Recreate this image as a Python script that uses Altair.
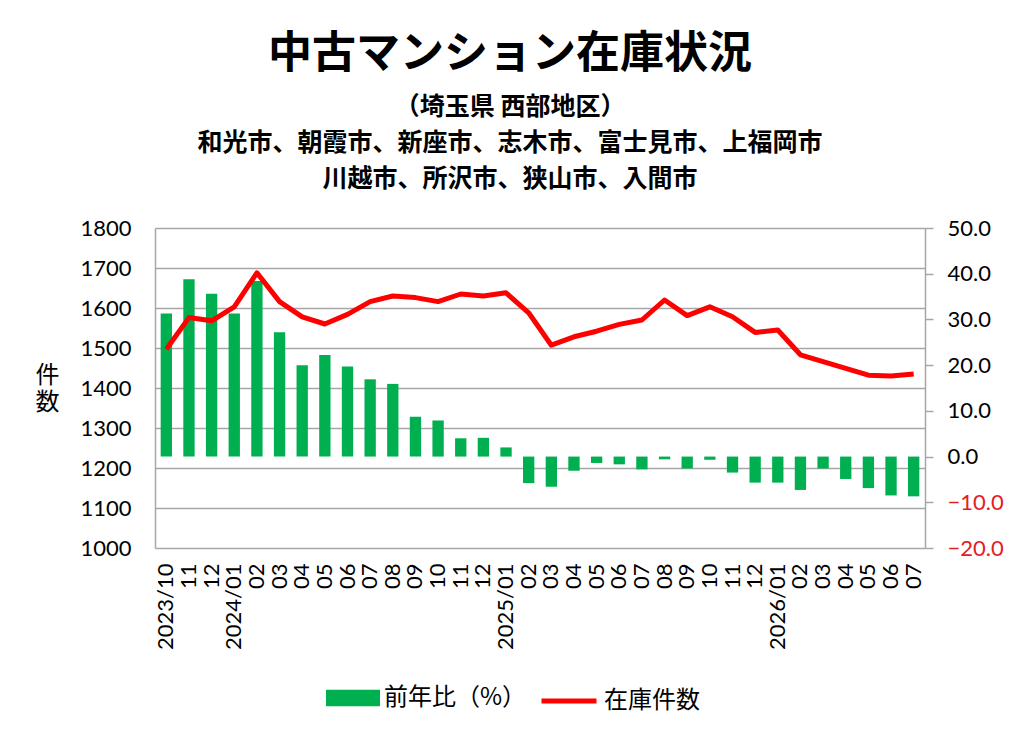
import altair as alt
import pandas as pd

months = [
    "2023/10", "2023/11", "2023/12",
    "2024/01", "2024/02", "2024/03", "2024/04", "2024/05", "2024/06",
    "2024/07", "2024/08", "2024/09", "2024/10", "2024/11", "2024/12",
    "2025/01", "2025/02", "2025/03", "2025/04", "2025/05", "2025/06",
    "2025/07", "2025/08", "2025/09", "2025/10", "2025/11", "2025/12",
    "2026/01", "2026/02", "2026/03", "2026/04", "2026/05", "2026/06", "2026/07",
]
tick_labels = [
    "2023/10", "11", "12",
    "2024/01", "02", "03", "04", "05", "06", "07", "08", "09", "10", "11", "12",
    "2025/01", "02", "03", "04", "05", "06", "07", "08", "09", "10", "11", "12",
    "2026/01", "02", "03", "04", "05", "06", "07",
]
yoy_pct = [31.3, 38.8, 35.6, 31.3, 38.4, 27.2, 20.0, 22.2, 19.7, 16.9, 15.9, 8.7,
           7.9, 4.0, 4.1, 2.0, -5.8, -6.6, -3.1, -1.4, -1.7, -2.8, -0.6, -2.6,
           -0.7, -3.5, -5.7, -5.7, -7.3, -2.6, -4.9, -6.9, -8.5, -8.7]
stock = [1497, 1576, 1568, 1603, 1688, 1616, 1578, 1560, 1584, 1616, 1630, 1626,
         1616, 1635, 1630, 1638, 1588, 1507, 1528, 1542, 1559, 1570, 1620, 1581,
         1603, 1578, 1539, 1545, 1483, 1466, 1449, 1432, 1430, 1435]

bar_name = "前年比（%）"
line_name = "在庫件数"

df = pd.DataFrame({"month": months, "yoy": yoy_pct, "stock": stock,
                   "bar_series": [bar_name] * len(months),
                   "line_series": [line_name] * len(months)})

JP = "Noto Sans CJK JP"
NUM = "Lato"
GRID = "#a6a6a6"

label_map = "{" + ",".join(f"'{m}':'{l}'" for m, l in zip(months, tick_labels)) + "}"

x_enc = alt.X(
    "month:O", sort=months, title=None,
    scale=alt.Scale(paddingInner=0.5, paddingOuter=0.25),
    axis=alt.Axis(labelExpr=f"{label_map}[datum.value]", labelAngle=270,
                  labelPadding=15, labelFontSize=22, labelFont=NUM,
                  labelColor="black", domain=False, ticks=False, grid=False),
)

bars = alt.Chart(df).mark_bar().encode(
    x=x_enc,
    y=alt.Y("yoy:Q",
            scale=alt.Scale(domain=[-20, 50], nice=False),
            axis=alt.Axis(orient="right", values=list(range(-20, 51, 10)),
                          format=".1f", grid=False, domainColor=GRID,
                          domainWidth=1.5, tickColor=GRID, tickWidth=1.5,
                          tickSize=8, labelPadding=14, labelFontSize=22,
                          labelFont=NUM,
                          labelColor={"expr": "datum.value < 0 ? '#e3211c' : 'black'"},
                          title=None)),
    color=alt.Color("bar_series:N",
                    scale=alt.Scale(domain=[bar_name], range=["#00b050"]),
                    legend=alt.Legend(orient="none", legendX=171, legendY=443,
                                      title=None, direction="horizontal",
                                      symbolType="M-1,-0.31H1V0.31H-1Z",
                                      symbolSize=2916, symbolStrokeWidth=0,
                                      labelFontSize=24, labelFont=JP,
                                      labelColor="black", labelOffset=4)),
)

line = alt.Chart(df).mark_line(strokeWidth=5, strokeJoin="round").encode(
    x=x_enc,
    y=alt.Y("stock:Q",
            scale=alt.Scale(domain=[1000, 1800], nice=False, zero=False),
            axis=alt.Axis(orient="left", values=list(range(1000, 1801, 100)),
                          format="d",
                          grid=True, gridColor=GRID, gridWidth=1.5,
                          domainColor=GRID, domainWidth=1.5, ticks=False,
                          labelPadding=24, labelFontSize=22, labelFont=NUM,
                          labelColor="black",
                          title=["件", "数"], titleAngle=0, titleX=-108,
                          titleY=135, titleAlign="center", titleBaseline="top",
                          titleFont=JP, titleFontSize=24, titleFontWeight="normal",
                          titleLineHeight=27, titleColor="black")),
    stroke=alt.Stroke("line_series:N",
                      scale=alt.Scale(domain=[line_name], range=["#ff0000"]),
                      legend=alt.Legend(orient="none", legendX=384, legendY=443,
                                        title=None, direction="horizontal",
                                        symbolType="stroke", symbolSize=3025,
                                        symbolStrokeWidth=5,
                                        labelFontSize=24, labelFont=JP,
                                        labelColor="black", labelOffset=5)),
)

chart = alt.layer(bars, line).resolve_scale(y="independent").properties(
    width=770, height=320,
    autosize=alt.AutoSizeParams(type="none"),
    padding={"left": 147, "top": 220, "right": 83, "bottom": 176},
    background="white",
    title=alt.TitleParams(
        text="中古マンション在庫状況",
        subtitle=["（埼玉県 西部地区）",
                  "和光市、朝霞市、新座市、志木市、富士見市、上福岡市",
                  "川越市、所沢市、狭山市、入間市"],
        font=JP, fontSize=44, fontWeight="bold", color="black",
        subtitleFont=JP, subtitleFontSize=25, subtitleFontWeight="bold",
        subtitleColor="black", subtitleLineHeight=36, subtitlePadding=18,
        anchor="middle", frame="bounds", offset=25, dx=-9,
    ),
).configure_view(strokeWidth=0)

chart.save("out.html", embed_options={"renderer": "svg", "actions": False})
